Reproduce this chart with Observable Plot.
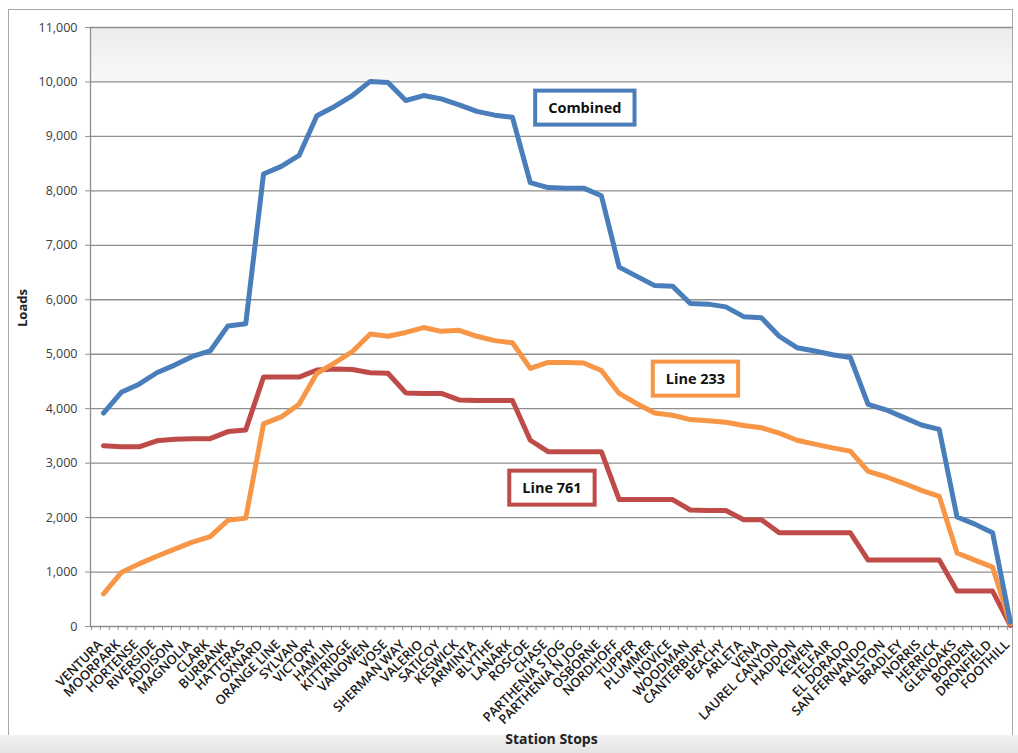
<!DOCTYPE html>
<html>
<head>
<meta charset="utf-8">
<script src="https://cdn.jsdelivr.net/npm/d3@7"></script>
<script src="https://cdn.jsdelivr.net/npm/@observablehq/plot@0.6"></script>
<style>
  html, body { margin: 0; padding: 0; background: #fff; }
  #wrap { position: relative; width: 1018px; height: 753px; overflow: hidden; }
  #frame { position: absolute; left: 8px; top: 9px; width: 1005px; height: 760px;
           border: 1.5px solid #a8a8a8; box-sizing: border-box; }
  #band { position: absolute; left: 0; top: 735px; width: 1018px; height: 18px;
          background: linear-gradient(#f2f2f2, #e4e4e4); }
  #chart { position: absolute; left: 0; top: 0; }
</style>
</head>
<body>
<div id="wrap">
  <div id="frame"></div>
  <div id="band"></div>
  <div id="chart"></div>
</div>
<script>
// Station stops along the corridor (west to east)
const stops = ["VENTURA","MOORPARK","HORTENSE","RIVERSIDE","ADDISON","MAGNOLIA","CLARK","BURBANK",
  "HATTERAS","OXNARD","ORANGE LINE","SYLVAN","VICTORY","HAMLIN","KITTRIDGE","VANOWEN","VOSE",
  "SHERMAN WAY","VALERIO","SATICOY","KESWICK","ARMINTA","BLYTHE","LANARK","ROSCOE","CHASE",
  "PARTHENIA S JOG","PARTHENIA N JOG","OSBORNE","NORDHOFF","TUPPER","PLUMMER","NOVICE","WOODMAN",
  "CANTERBURY","BEACHY","ARLETA","VENA","LAUREL CANYON","HADDON","KEWEN","TELFAIR","EL DORADO",
  "SAN FERNANDO","RALSTON","BRADLEY","NORRIS","HERRICK","GLENOAKS","BORDEN","DRONFIELD","FOOTHILL"];

// Passenger loads per stop
const line761 = [3320,3300,3300,3410,3440,3450,3450,3580,3610,4580,4580,4580,4710,4730,4720,4660,4650,
  4290,4280,4280,4160,4150,4150,4150,3420,3210,3210,3210,3210,2330,2330,2330,2330,2140,2130,2130,
  1960,1960,1720,1720,1720,1720,1720,1220,1220,1220,1220,1220,650,650,650,20];
const line233 = [600,990,1150,1290,1420,1550,1650,1950,1990,3720,3850,4080,4650,4840,5050,5370,5330,
  5400,5490,5420,5440,5330,5250,5210,4740,4850,4850,4840,4700,4280,4090,3920,3880,3800,3780,3750,
  3690,3650,3550,3420,3350,3280,3220,2850,2750,2630,2500,2390,1350,1220,1090,50];
const combined = [3920,4300,4450,4660,4800,4960,5060,5520,5560,8310,8450,8650,9380,9550,9750,10010,9990,
  9660,9750,9690,9580,9460,9390,9350,8150,8060,8050,8050,7910,6600,6430,6260,6250,5930,5920,5870,
  5690,5670,5330,5120,5060,4990,4940,4080,3980,3840,3700,3620,2010,1880,1720,80];

const seriesNames = ["Line 761", "Line 233", "Combined"];
const seriesColors = ["#be4b48", "#f79646", "#4a7ebb"];
const seriesValues = [line761, line233, combined];

const yTicks = d3.range(0, 11001, 1000);

// Boxed series labels placed inside the plot
const labelText = ["Combined", "Line 233", "Line 761"];
const labelStop = [27.07, 33.29, 25.22];
const labelLoad = [9513, 4536, 2534];

const rows = [];
seriesNames.forEach((name, s) => seriesValues[s].forEach((v, i) => rows.push({series: name, i, v})));
const labels = labelText.map((t, j) => ({t, x: labelStop[j], y: labelLoad[j]}));

const xMin = -0.73, xMax = 51.12;
const minorTicks = d3.range(0, 104).map(j => -0.675 + 0.5 * j);
const gridColor = "#8f8f8f";

const svg = Plot.plot({
  width: 1018, height: 753,
  marginLeft: 90, marginRight: 6, marginTop: 27, marginBottom: 127,
  style: {fontFamily: "'Open Sans', sans-serif", background: "transparent", overflow: "visible"},
  x: {type: "linear", domain: [xMin, xMax]},
  y: {domain: [0, 11000]},
  color: {domain: seriesNames, range: seriesColors},
  marks: [
    Plot.rect([0], {x1: xMin, x2: xMax, y1: 10000, y2: 11000, fill: "url(#topband)"}),
    Plot.ruleY(yTicks, {stroke: gridColor, strokeWidth: 1.3}),
    Plot.ruleX([xMin], {stroke: gridColor, strokeWidth: 1.3}),
    Plot.axisY({ticks: yTicks, tickFormat: d3.format(","), tickSize: 5, tickPadding: 8,
      fontSize: 12.5, stroke: gridColor, fill: "#3c3c3c", label: null}),
    Plot.axisX({ticks: minorTicks, tickSize: 4, tickFormat: () => "", stroke: gridColor, label: null}),
    Plot.axisX({ticks: d3.range(stops.length), tickSize: 0, tickPadding: 16, tickRotate: -45,
      tickFormat: i => stops[i], fontSize: 13, fontWeight: 600, fill: "#1a1a1a", dx: -3, label: null}),
    Plot.line(rows, {x: "i", y: "v", z: "series", stroke: "series", strokeWidth: 5,
      strokeLinejoin: "round", strokeLinecap: "round"}),
    Plot.text(labels, {x: "x", y: "y", text: "t", fontSize: 14.5, fontWeight: "bold", fill: "#111"}),
    Plot.text(["Station Stops"], {frameAnchor: "bottom", dy: 117, fontSize: 14, fontWeight: "bold", fill: "#222"}),
    Plot.text(["Loads"], {frameAnchor: "left", dx: -68, rotate: -90, fontSize: 13, fontWeight: "bold", fill: "#222"})
  ]
});

document.getElementById("chart").appendChild(svg);

// gradient for the shaded top band
const ns = "http://www.w3.org/2000/svg";
const defs = document.createElementNS(ns, "defs");
defs.innerHTML = '<linearGradient id="topband" x1="0" y1="0" x2="0" y2="1">' +
  '<stop offset="0" stop-color="#ececec"/><stop offset="1" stop-color="#f8f8f8"/></linearGradient>';
svg.insertBefore(defs, svg.firstChild);

// draw a coloured box behind each series label
svg.querySelectorAll("text").forEach(el => {
  const j = labelText.indexOf(el.textContent);
  if (j < 0) return;
  const b = el.getBBox();
  const r = document.createElementNS(ns, "rect");
  const w = b.width + 26, h = 34;
  const cx = b.x + b.width / 2, cy = b.y + b.height / 2;
  r.setAttribute("x", cx - w / 2);
  r.setAttribute("y", cy - h / 2);
  r.setAttribute("width", w);
  r.setAttribute("height", h);
  r.setAttribute("fill", "#fff");
  r.setAttribute("stroke", seriesColors[seriesNames.indexOf(labelText[j])]);
  r.setAttribute("stroke-width", 4);
  const t = el.getAttribute("transform");
  if (t) r.setAttribute("transform", t);
  el.parentNode.insertBefore(r, el);
});
</script>
</body>
</html>
